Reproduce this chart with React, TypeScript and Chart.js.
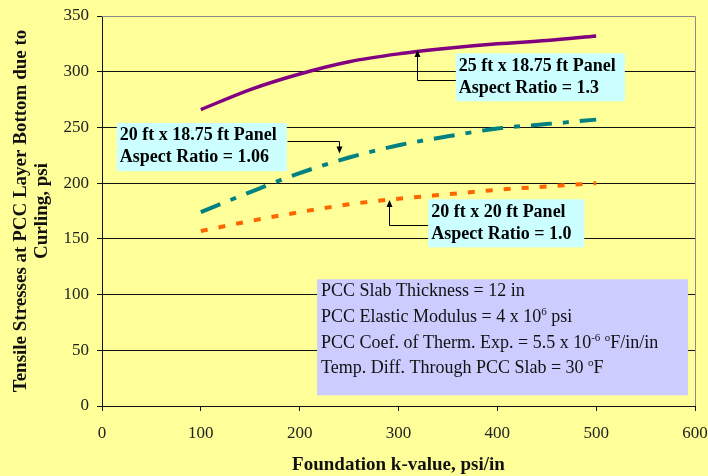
import React, { useEffect, useRef } from 'react';
import { Chart, registerables } from 'chart.js';

Chart.register(...registerables);

// ---- data ----
const kValues = [100, 150, 200, 250, 300, 350, 400, 450, 500];
const stress25x1875 = [266, 284, 298, 309, 316, 321, 325, 328, 332];
const stress20x1875 = [174, 192, 209, 223, 234, 242, 249, 253, 257];
const stress20x20 = [157, 166, 174, 181, 186, 190, 194, 197, 200];

const xTitle = 'Foundation k-value, psi/in';
const yTitle = ['Tensile Stresses at PCC Layer Bottom due to', 'Curling, psi'];

const calloutText = [
  ['25 ft x 18.75 ft Panel', 'Aspect Ratio = 1.3'],
  ['20 ft x 18.75 ft Panel', 'Aspect Ratio = 1.06'],
  ['20 ft x 20 ft Panel', 'Aspect Ratio = 1.0'],
];

// info lines: segments [text, isSuperscript]
const infoLines: [string, boolean][][] = [
  [['PCC Slab Thickness = 12 in', false]],
  [['PCC Elastic Modulus = 4 x 10', false], ['6', true], [' psi', false]],
  [['PCC Coef. of Therm. Exp. = 5.5 x 10', false], ['-6', true], [' ', false], ['o', true], ['F/in/in', false]],
  [['Temp. Diff. Through PCC Slab = 30 ', false], ['o', true], ['F', false]],
];

// ---- annotation placement (data coordinates) ----
const calloutPlacement = [
  { box: [358, 529, 316.5, 273.5], leader: [[358, 292.7], [318.5, 292.7], [318.5, 319.5]] },
  { box: [15, 187, 254, 210.7], leader: [[187, 237.6], [240, 237.6], [240, 226.5]] },
  { box: [330, 488, 185.5, 142.4], leader: [[330, 162], [290.5, 162], [290.5, 184.8]] },
];
const infoPlacement = [217.6, 593, 113.7, 9.6];

const SERIF = '"Liberation Serif", "Times New Roman", serif';

const annotationsPlugin = {
  id: 'customAnnotations',
  beforeDraw(chart: any) {
    const { ctx, width, height } = chart;
    ctx.save();
    ctx.fillStyle = '#FFFF99';
    ctx.fillRect(0, 0, width, height);
    ctx.restore();
  },
  afterDatasetsDraw(chart: any) {
    const { ctx, chartArea } = chart;
    const xs = chart.scales.x;
    const ys = chart.scales.y;
    ctx.save();
    // right & top border
    ctx.strokeStyle = '#8a8a8a';
    ctx.lineWidth = 1;
    ctx.beginPath();
    const r = Math.round(chartArea.right) + 0.5;
    const t = Math.round(chartArea.top) + 0.5;
    ctx.moveTo(chartArea.left, t);
    ctx.lineTo(r, t);
    ctx.lineTo(r, chartArea.bottom);
    ctx.stroke();

    // callouts
    calloutPlacement.forEach((c, i) => {
      const [k0, k1, v0, v1] = c.box;
      const x0 = xs.getPixelForValue(k0);
      const x1 = xs.getPixelForValue(k1);
      const y0 = ys.getPixelForValue(v0);
      const y1 = ys.getPixelForValue(v1);
      // leader
      const pts = c.leader.map(([k, v]) => [xs.getPixelForValue(k), ys.getPixelForValue(v)]);
      ctx.strokeStyle = '#000';
      ctx.lineWidth = 1;
      ctx.beginPath();
      pts.forEach(([px, py], j) => {
        const ax = Math.round(px) + 0.5;
        const ay = Math.round(py) + 0.5;
        if (j === 0) ctx.moveTo(ax, ay);
        else if (j === pts.length - 1) {
          const prev = pts[j - 1];
          const dir = py < prev[1] ? 1 : -1;
          ctx.lineTo(ax, ay + dir * 5);
        } else ctx.lineTo(ax, ay);
      });
      ctx.stroke();
      const [tx, ty] = pts[pts.length - 1];
      const prev = pts[pts.length - 2];
      const dir = ty < prev[1] ? 1 : -1;
      const ax = Math.round(tx) + 0.5;
      ctx.fillStyle = '#000';
      ctx.beginPath();
      ctx.moveTo(ax, ty);
      ctx.lineTo(ax - 3, ty + dir * 7);
      ctx.lineTo(ax + 3, ty + dir * 7);
      ctx.closePath();
      ctx.fill();
      // box
      ctx.fillStyle = '#CCFFFF';
      ctx.fillRect(x0, y0, x1 - x0, y1 - y0);
      ctx.fillStyle = '#000';
      ctx.font = 'bold 18px ' + SERIF;
      ctx.textBaseline = 'alphabetic';
      ctx.textAlign = 'left';
      calloutText[i].forEach((line, li) => {
        ctx.fillText(line, x0 + 3, y0 + 17.5 + li * 22);
      });
    });

    // info box
    {
      const [k0, k1, v0, v1] = infoPlacement;
      const x0 = xs.getPixelForValue(k0);
      const x1 = xs.getPixelForValue(k1);
      const y0 = ys.getPixelForValue(v0);
      const y1 = ys.getPixelForValue(v1);
      ctx.fillStyle = '#CCCCFF';
      ctx.fillRect(x0, y0, x1 - x0, y1 - y0);
      ctx.fillStyle = '#111';
      ctx.textAlign = 'left';
      ctx.textBaseline = 'alphabetic';
      const offsets = [17, 43, 68.5, 94];
      infoLines.forEach((segs, li) => {
        let cx = x0 + 4;
        const by = y0 + offsets[li];
        segs.forEach(([txt, sup]) => {
          if (sup) {
            ctx.font = '11px ' + SERIF;
            ctx.fillText(txt, cx, by - 7);
          } else {
            ctx.font = '18px ' + SERIF;
            ctx.fillText(txt, cx, by);
          }
          cx += ctx.measureText(txt).width;
        });
      });
    }
    ctx.restore();
  },
};

export default function App() {
  const ref = useRef<HTMLCanvasElement>(null);
  useEffect(() => {
    document.body.style.margin = '0';
    const mk = (vals: number[]) => kValues.map((k, i) => ({ x: k, y: vals[i] }));
    const chart = new Chart(ref.current as HTMLCanvasElement, {
      type: 'line',
      data: {
        datasets: [
          {
            label: '25 ft x 18.75 ft Panel',
            data: mk(stress25x1875),
            borderColor: '#800080',
            borderWidth: 3.5,
            pointRadius: 0,
            cubicInterpolationMode: 'monotone',
            fill: false,
          },
          {
            label: '20 ft x 18.75 ft Panel',
            data: mk(stress20x1875),
            borderColor: '#008080',
            borderWidth: 4,
            borderDash: [21, 11, 6, 11],
            pointRadius: 0,
            cubicInterpolationMode: 'monotone',
            fill: false,
          },
          {
            label: '20 ft x 20 ft Panel',
            data: mk(stress20x20),
            borderColor: '#FF6600',
            borderWidth: 4,
            borderDash: [7, 11],
            pointRadius: 0,
            cubicInterpolationMode: 'monotone',
            fill: false,
          },
        ],
      },
      options: {
        responsive: false,
        animation: false,
        layout: { padding: { top: 16, right: 13, left: 0, bottom: 0 } },
        plugins: {
          legend: { display: false },
          tooltip: { enabled: false },
        },
        scales: {
          x: {
            type: 'linear',
            min: 0,
            max: 600,
            ticks: {
              stepSize: 100,
              color: '#222',
              font: { family: SERIF, size: 17 },
              padding: 12,
            },
            grid: {
              color: 'rgba(0,0,0,0)',
              tickColor: '#111',
              tickLength: 5,
            },
            border: { color: '#111', width: 1 },
            title: {
              display: true,
              text: xTitle,
              color: '#111',
              font: { family: SERIF, size: 19, weight: 'bold', lineHeight: 1.2 },
              padding: { top: 0, bottom: 0 },
            },
            afterFit(scale: any) {
              scale.height = 70;
              scale.paddingLeft = 0;
              scale.paddingRight = 0;
            },
          },
          y: {
            type: 'linear',
            min: 0,
            max: 350,
            ticks: {
              stepSize: 50,
              color: '#222',
              font: { family: SERIF, size: 17 },
              padding: 8,
            },
            grid: {
              color: (c: any) => (c.tick && c.tick.value === 350 ? '#8a8a8a' : '#111'),
              tickColor: '#111',
              tickLength: 5,
            },
            border: { color: '#111', width: 1 },
            title: {
              display: true,
              text: yTitle,
              color: '#111',
              font: { family: SERIF, size: 19, weight: 'bold', lineHeight: 1.13 },
              padding: { top: 10, bottom: 0 },
            },
            afterFit(scale: any) {
              scale.width = 102;
              scale.paddingTop = 0;
              scale.paddingBottom = 0;
            },
          },
        },
      } as any,
      plugins: [annotationsPlugin],
    });
    return () => chart.destroy();
  }, []);
  return (
    <div style={{ width: 708, height: 476 }}>
      <canvas ref={ref} width={708} height={476} style={{ display: 'block' }} />
    </div>
  );
}
